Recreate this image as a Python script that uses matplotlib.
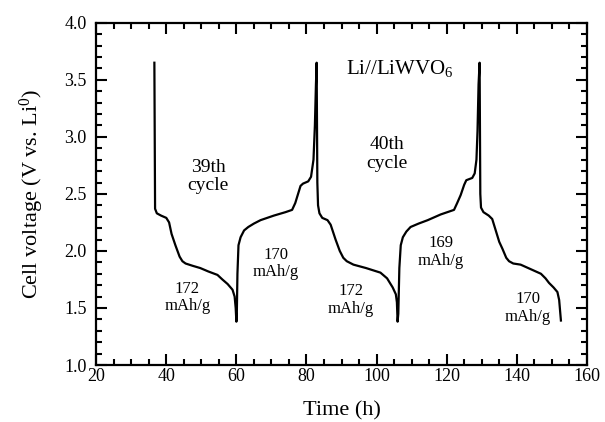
import matplotlib
matplotlib.use('Agg')
import matplotlib.pyplot as plt
from matplotlib.ticker import MultipleLocator

plt.rcParams['font.family'] = ['Liberation Serif', 'DejaVu Serif']
plt.rcParams['mathtext.fontset'] = 'custom'
plt.rcParams['mathtext.rm'] = 'Liberation Serif'
plt.rcParams['mathtext.default'] = 'regular'

# galvanostatic curve, cycles 39-40
time_h = [36.6, 36.8, 37.3, 38.5, 40.0, 40.8, 41.5, 42.6, 43.8, 44.6, 45.5, 47.5,
          49.7, 52.0, 54.6, 56.0, 57.5, 58.9, 59.5, 59.8, 60.0,
          60.1, 60.3, 60.6, 61.2, 62.2, 63.4, 65.0, 66.9, 70.7, 74.0, 75.9, 76.8,
          77.6, 78.3, 79.0, 80.5, 81.3, 82.0, 82.4, 82.7, 82.9,
          83.1, 83.3, 83.7, 84.5, 86.0, 86.9, 88.3, 89.5, 90.5, 91.5, 93.4, 97.0,
          101.1, 103.0, 104.6, 105.5, 105.8, 106.0,
          106.2, 106.5, 106.9, 107.5, 108.5, 109.7, 112.0, 114.6, 118.3, 122.1,
          123.0, 124.0, 125.0, 125.6, 127.3, 128.0, 128.5, 128.8, 129.1, 129.4,
          129.6, 129.8, 130.5, 132.0, 133.0, 134.0, 135.0, 135.9, 137.0, 137.8,
          139.0, 141.1, 144.0, 146.9, 148.2, 149.2, 150.5, 151.6, 152.1, 152.6]
voltage = [3.65, 2.37, 2.33, 2.31, 2.29, 2.25, 2.15, 2.05, 1.95, 1.91, 1.89, 1.87,
           1.85, 1.82, 1.79, 1.75, 1.71, 1.66, 1.60, 1.50, 1.38,
           1.40, 1.80, 2.05, 2.12, 2.18, 2.21, 2.24, 2.27, 2.31, 2.34, 2.36, 2.42,
           2.50, 2.57, 2.59, 2.61, 2.65, 2.80, 3.10, 3.46, 3.65,
           2.60, 2.40, 2.33, 2.29, 2.27, 2.23, 2.10, 2.00, 1.94, 1.91, 1.88, 1.85,
           1.81, 1.76, 1.68, 1.62, 1.55, 1.38,
           1.45, 1.85, 2.05, 2.12, 2.17, 2.21, 2.24, 2.27, 2.32, 2.36,
           2.42, 2.49, 2.58, 2.62, 2.64, 2.68, 2.80, 3.05, 3.46, 3.65,
           2.50, 2.38, 2.34, 2.31, 2.28, 2.18, 2.08, 2.02, 1.94, 1.91,
           1.89, 1.88, 1.84, 1.80, 1.76, 1.72, 1.68, 1.64, 1.57, 1.39]

cap_text = ['172\nmAh/g', '170\nmAh/g', '172\nmAh/g', '169\nmAh/g', '170\nmAh/g']
cap_x = [46.0, 71.2, 92.6, 118.3, 143.1]
cap_y = [1.59, 1.89, 1.57, 1.99, 1.50]

fig = plt.figure(figsize=(6.05, 4.22), dpi=100)
ax = fig.add_axes([0.159, 0.135, 0.811, 0.811])

ax.plot(time_h, voltage, color='black', lw=1.6)

ax.set_xlim(20, 160)
ax.set_ylim(1.0, 4.0)
ax.xaxis.set_major_locator(MultipleLocator(20))
ax.xaxis.set_minor_locator(MultipleLocator(5))
ax.yaxis.set_major_locator(MultipleLocator(0.5))
ax.yaxis.set_minor_locator(MultipleLocator(0.1))
ax.yaxis.set_major_formatter(plt.FormatStrFormatter('%.1f'))
ax.tick_params(which='both', direction='in', top=True, right=True, width=1.5, labelsize=13)
ax.tick_params(which='major', length=8)
ax.tick_params(which='minor', length=4)
ax.tick_params(axis='x', which='major', pad=2)
ax.tick_params(axis='y', which='major', pad=7)
for s in ax.spines.values():
    s.set_linewidth(1.6)

ax.set_xlabel('Time (h)', fontsize=16, labelpad=12)
ax.set_ylabel('Cell voltage (V vs. Li$^0$)', fontsize=16, labelpad=13)

ax.text(52, 2.65, '39th\ncycle', ha='center', va='center', fontsize=14, linespacing=1.1)
ax.text(103, 2.85, '40th\ncycle', ha='center', va='center', fontsize=14, linespacing=1.1)
ax.text(106.5, 3.6, 'Li//LiWVO$_6$', ha='center', va='center', fontsize=15)
for t, x, y in zip(cap_text, cap_x, cap_y):
    ax.text(x, y, t, ha='center', va='center', fontsize=12, linespacing=1.1)

fig.savefig('out.png', dpi=100)
